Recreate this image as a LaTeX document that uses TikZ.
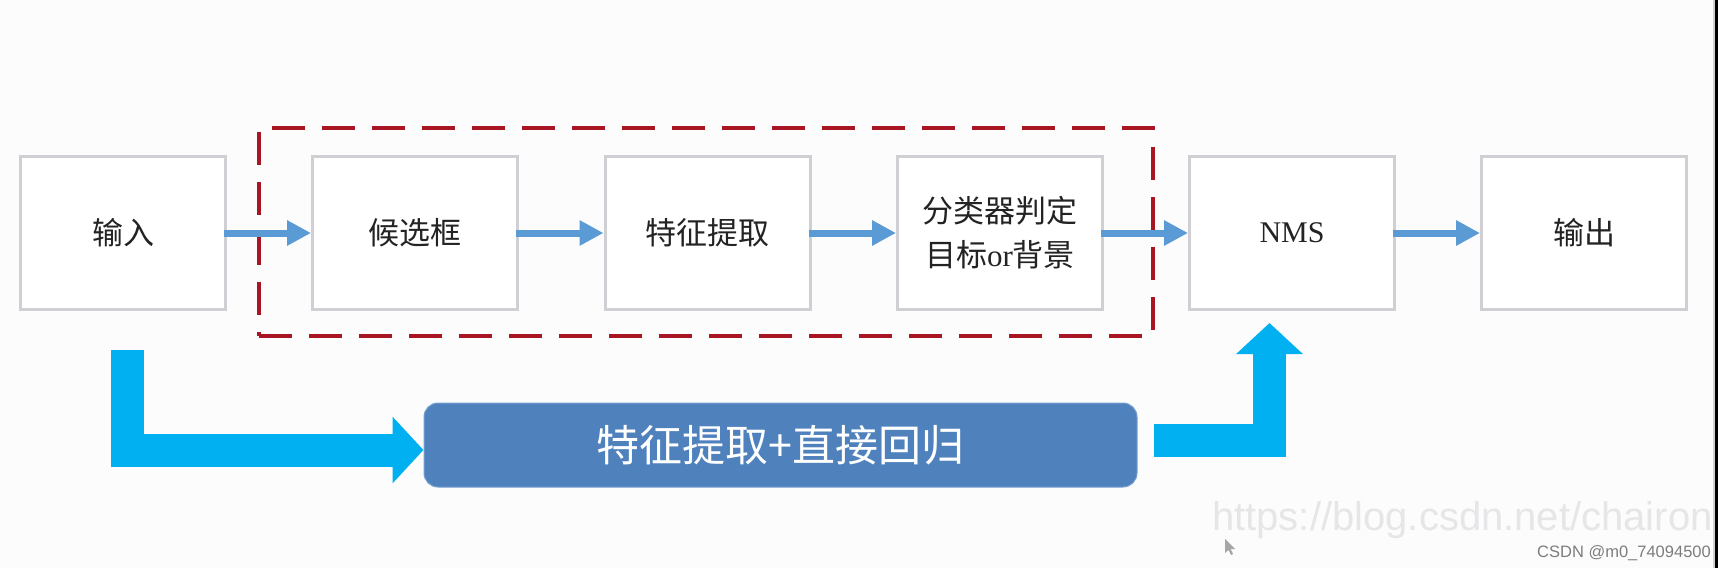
\documentclass[tikz,border=0pt]{standalone}
\usepackage{fontspec}
\setmainfont{Liberation Serif}
\newfontfamily\cjk{Noto Sans CJK SC}
\newfontfamily\arial{Liberation Sans}
\usetikzlibrary{arrows.meta}

\definecolor{boxgray}{RGB}{208,208,212}
\definecolor{flowblue}{RGB}{91,155,213}
\definecolor{dashred}{RGB}{168,22,36}
\definecolor{bigcyan}{RGB}{0,176,240}
\definecolor{rectblue}{RGB}{79,129,189}
\definecolor{rectedge}{RGB}{120,160,210}
\definecolor{txtgray}{RGB}{35,35,35}
\definecolor{wmgray}{RGB}{230,230,232}
\definecolor{csdngray}{RGB}{125,125,125}
\definecolor{bgwhite}{RGB}{252,252,253}

\begin{document}
\begin{tikzpicture}[x=1pt,y=-1pt,
  stage/.style={draw=boxgray, line width=3pt, fill=white, minimum width=205pt,
    minimum height=153pt, inner sep=0pt, text=txtgray,
    font=\cjk\fontsize{31}{44}\selectfont, align=center},
  flow/.style={draw=flowblue, line width=7pt, -{Triangle[length=24pt,width=24pt]},
    shorten <= -3pt},
  big/.style={draw=bigcyan, line width=33pt, line join=miter,
    -{Triangle[length=31pt,width=65pt]}},
  group/.style={draw=dashred, line width=3.5pt, dash pattern=on 33pt off 17pt,
    minimum width=894pt, minimum height=208pt, inner sep=0pt},
]
\useasboundingbox (0,0) rectangle (1728,568);
\fill[bgwhite] (0,0) rectangle (1728,568);

% grouping frame
\node[group] (grp) at (706,232) {};

% stages
\node[stage] (inp)  at (123,233)  {输入};
\node[stage] (cand) at (415,233)  {候选框};
\node[stage] (feat) at (707.5,233) {特征提取};
\node[stage] (cls)  at (1000,233) {分类器判定\\目标{\rmfamily or}背景};
\node[stage, font=\rmfamily\fontsize{30}{34}\selectfont] (nms) at (1292,233) {NMS};
\node[stage] (out)  at (1584,233) {输出};

\draw[flow] (inp) -- (cand);
\draw[flow] (cand) -- (feat);
\draw[flow] (feat) -- (cls);
\draw[flow] (cls) -- (nms);
\draw[flow] (nms) -- (out);

% regression block
\node[fill=rectblue, draw=rectedge, line width=1pt, rounded corners=14pt,
  minimum width=713pt, minimum height=84pt, inner sep=0pt, text=white,
  font=\cjk\fontsize{43}{50}\selectfont] (reg) at (780.5,445) {特征提取+直接回归};

% big cyan arrows
\coordinate (b1) at (127.5,350);
\draw[big] (b1) |- ([yshift=-5pt]reg.west);
\coordinate (b2) at (1154,440);
\coordinate (b3) at (1269.5,323);
\draw[big] (b2) -| (b3);

% watermark
\node[anchor=base west, inner sep=0pt, text=wmgray,
  font=\arial\fontsize{40}{40}\selectfont] (wm) at (1212,530) {https://blog.csdn.net/chairon};
\node[anchor=base east, inner sep=0pt, text=csdngray,
  font=\arial\fontsize{16.5}{18}\selectfont] (csdn) at (1711,557) {CSDN @m0\_74094500};

% mouse cursor
\fill[gray!70] (1225,539) -- (1225,553) -- (1228.5,550) -- (1231,555) -- (1233,554)
  -- (1230.5,549) -- (1235,549) -- cycle;

% right screen edge
\fill[gray!35] (1712.5,0) rectangle (1715,568);
\fill[black] (1715,0) rectangle (1718,568);
\fill[white] (1718,0) rectangle (1728,568);
\end{tikzpicture}
\end{document}
